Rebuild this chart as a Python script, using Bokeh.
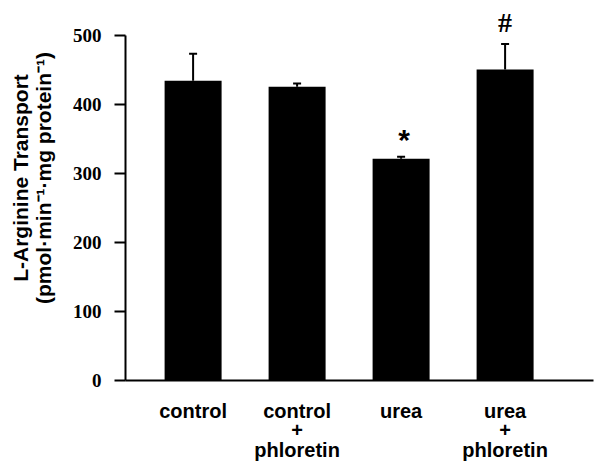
from bokeh.plotting import figure
from bokeh.models import FixedTicker, Whisker, TeeHead, ColumnDataSource
from bokeh.core.properties import value
from bokeh.embed import file_html
from bokeh.resources import INLINE

categories = ["control", "control\n+\nphloretin", "urea", "urea\n+\nphloretin"]
means = [434, 425, 321, 450]
errors = [39, 5, 3, 37]
marks = ["", "", "*", "#"]
y_ticks = [0, 100, 200, 300, 400, 500]
y_title_lines = ["L-Arginine Transport", "(pmol\u00b7min\u207b\u00b9\u00b7mg protein\u207b\u00b9)"]

xs = list(range(len(categories)))
tops = [m + e for m, e in zip(means, errors)]

p = figure(width=600, height=466, x_range=(-0.65, 3.85), y_range=(0, 535.5),
           output_backend="svg", toolbar_location=None,
           min_border_left=125, min_border_right=7, min_border_top=10, min_border_bottom=86)
p.outline_line_color = None
p.grid.visible = False
p.background_fill_color = "white"
p.border_fill_color = "white"

src = ColumnDataSource(dict(x=xs, top=means, upper=tops, mark=marks))
p.vbar(x="x", top="top", width=0.548, bottom=0, source=src, fill_color="black", line_color=None)

w = Whisker(base="x", lower="top", upper="upper", source=src, dimension="height",
            line_color="black", line_width=2, lower_head=None,
            upper_head=TeeHead(size=8, line_color="black", line_width=2))
p.add_layout(w)

p.text(x=[xs[2]], y=[tops[2]], text=[marks[2]], text_align="center", text_baseline="bottom",
       text_font=value("Liberation Sans"), text_font_style="bold", text_font_size="30px",
       y_offset=-1, x_offset=3, text_color="black")
p.text(x=[xs[3]], y=[tops[3]], text=[marks[3]], text_align="center", text_baseline="bottom",
       text_font=value("Liberation Serif"), text_font_style="bold", text_font_size="28px",
       y_offset=-6, text_color="black")

# y axis
ya = p.yaxis[0]
ya.ticker = FixedTicker(ticks=y_ticks)
ya.bounds = (0, 500)
ya.minor_tick_line_color = None
ya.major_tick_in = 0
ya.major_tick_out = 11
ya.major_tick_line_width = 2
ya.axis_line_width = 2
ya.major_label_standoff = 13
ya.major_label_text_font = "Liberation Serif"
ya.major_label_text_font_style = "bold"
ya.major_label_text_font_size = "19px"
ya.major_label_text_color = "black"
pad = "\u00a0" * 6
ya.axis_label = "\n".join(pad + s for s in y_title_lines)
ya.axis_label_text_font = "Liberation Sans"
ya.axis_label_text_font_style = "bold"
ya.axis_label_text_font_size = "21px"
ya.axis_label_text_line_height = 1.0
ya.axis_label_text_color = "black"
ya.axis_label_standoff = 15

# x axis
xa = p.xaxis[0]
xa.ticker = FixedTicker(ticks=xs)
xa.major_label_overrides = {i: c for i, c in zip(xs, categories)}
xa.minor_tick_line_color = None
xa.major_tick_line_color = None
xa.major_tick_in = 0
xa.major_tick_out = 0
xa.axis_line_width = 2
xa.major_label_standoff = 19
xa.major_label_text_font = "Liberation Sans"
xa.major_label_text_font_style = "bold"
xa.major_label_text_font_size = "20px"
xa.major_label_text_color = "black"
xa.major_label_text_line_height = 0.9

open("out.html", "w").write(file_html(p, INLINE))
